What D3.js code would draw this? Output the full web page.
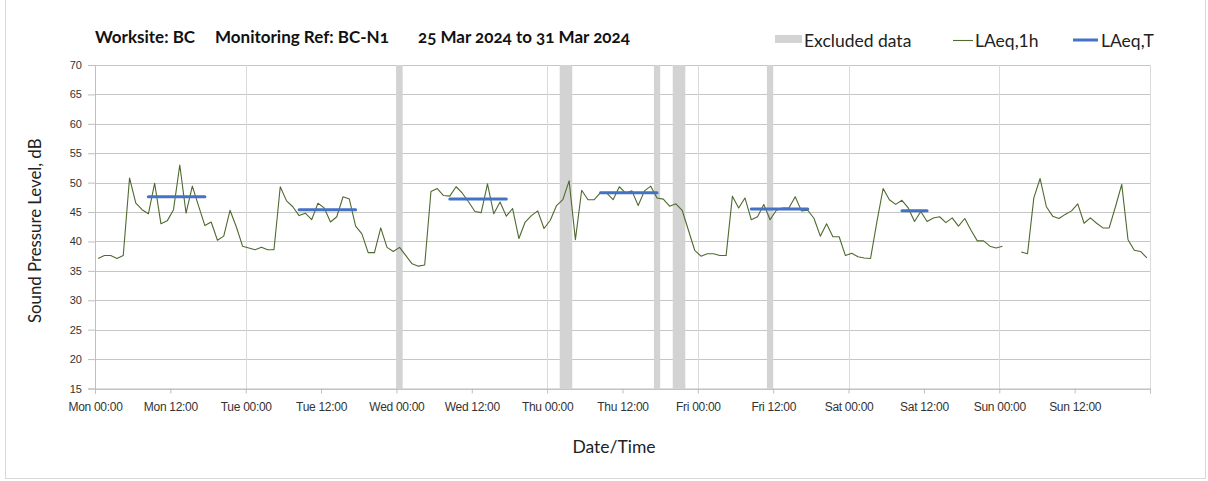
<!DOCTYPE html>
<html>
<head>
<meta charset="utf-8">
<script src="https://cdn.jsdelivr.net/npm/d3@7"></script>
<style>
  body { margin: 0; background: #fff; }
  svg { display: block; font-family: Lato, "Open Sans", sans-serif; }
  .onum { font-variant-numeric: oldstyle-nums; }
</style>
</head>
<body>
<div id="chart"></div>
<script>
// hourly LAeq,1h values, Mon 25 Mar 2024 00:00 onwards (null = no data)
const laeq1h = [
  37.1, 37.6, 37.6, 37.1, 37.6, 50.8, 46.5, 45.4, 44.7, 49.9, 43.0, 43.5, 45.4, 53.0, 44.8, 49.4, 46.0, 42.7, 43.3, 40.2, 40.9, 45.3, 42.5, 39.2,
  38.9, 38.6, 39.0, 38.6, 38.6, 49.3, 46.9, 45.9, 44.4, 44.8, 43.7, 46.5, 45.7, 43.3, 44.2, 47.6, 47.2, 42.6, 41.3, 38.1, 38.1, 42.3, 39.0, 38.3,
  39.0, 37.6, 36.2, 35.8, 36.0, 48.5, 49.0, 47.8, 47.7, 49.3, 48.2, 46.7, 45.1, 44.9, 49.8, 44.7, 46.7, 44.3, 45.6, 40.5, 43.3, 44.4, 45.2, 42.2,
  43.6, 46.1, 47.1, 50.3, 40.3, 48.7, 47.1, 47.1, 48.3, 48.2, 47.1, 49.3, 48.2, 48.6, 46.1, 48.6, 49.4, 47.4, 47.2, 46.0, 46.4, 45.3, 41.9, 38.5,
  37.5, 37.9, 37.9, 37.6, 37.6, 47.7, 45.7, 47.4, 43.7, 44.2, 46.3, 43.7, 45.3, 45.7, 45.7, 47.6, 45.2, 45.3, 43.9, 40.9, 43.0, 40.8, 40.8, 37.6,
  38.0, 37.4, 37.2, 37.1, 43.3, 49.0, 47.1, 46.3, 47.0, 45.7, 43.4, 45.1, 43.4, 44.0, 44.2, 43.2, 44.0, 42.6, 43.9, 41.9, 40.1, 40.1, 39.2, 38.9,
  39.2, null, null, 38.2, 37.9, 47.4, 50.7, 45.9, 44.3, 43.9, 44.6, 45.2, 46.4, 43.1, 44.0, 43.1, 42.3, 42.3, 45.9, 49.7, 40.3, 38.5, 38.3, 37.2
];

// LAeq,T daytime periods (hours from start) and values
const periodStart = [8, 32, 56, 80, 104, 128];
const periodEnd   = [18, 42, 66, 90, 114, 133];
const laeqT       = [47.6, 45.4, 47.2, 48.3, 45.5, 45.2];

// excluded data (hours from start)
const excludedStart = [48, 74, 89, 92, 107];
const excludedEnd   = [49, 76, 90, 94, 108];

const yTicks = [15, 20, 25, 30, 35, 40, 45, 50, 55, 60, 65, 70];

const start = new Date(Date.UTC(2024, 2, 25));
const end = new Date(Date.UTC(2024, 3, 1));
const hour = h => new Date(start.getTime() + h * 3600000);

const W = 1208, H = 481;
const margin = {top: 65, right: 58, bottom: 92.5, left: 95};
const width = W - margin.left - margin.right,
      height = H - margin.top - margin.bottom;

const svg = d3.select("#chart").append("svg")
    .attr("width", W)
    .attr("height", H);

// outer frame
svg.append("rect")
    .attr("x", 5.5).attr("y", -2)
    .attr("width", W - 8).attr("height", H - 0.5)
    .attr("fill", "none")
    .attr("stroke", "#d9d9d9");

const g = svg.append("g")
    .attr("transform", `translate(${margin.left},${margin.top})`);

const x = d3.scaleUtc().domain([start, end]).range([0, width]);
const y = d3.scaleLinear().domain([15, 70]).range([height, 0]);

// horizontal grid
g.append("g")
  .selectAll("line")
  .data(yTicks)
  .join("line")
    .attr("x1", 0).attr("x2", width)
    .attr("y1", d => Math.round(y(d)) + 0.5)
    .attr("y2", d => Math.round(y(d)) + 0.5)
    .attr("stroke", "#c6c6c6");

// vertical day grid
g.append("g")
  .selectAll("line")
  .data(d3.utcDay.range(start, end).concat([end]))
  .join("line")
    .attr("x1", d => Math.round(x(d)) + 0.5)
    .attr("x2", d => Math.round(x(d)) + 0.5)
    .attr("y1", 0).attr("y2", height)
    .attr("stroke", "#dadada");

// excluded data
g.append("g")
  .selectAll("rect")
  .data(excludedStart.map((s, i) => [s, excludedEnd[i]]))
  .join("rect")
    .attr("x", d => x(hour(d[0])))
    .attr("width", d => x(hour(d[1])) - x(hour(d[0])))
    .attr("y", 0)
    .attr("height", height)
    .attr("fill", "#d3d3d3");

// y axis
const yAxis = g.append("g")
    .call(d3.axisLeft(y).tickValues(yTicks).tickSize(7).tickPadding(6));
yAxis.select(".domain").attr("stroke", "#bfbfbf");
yAxis.selectAll(".tick line").attr("stroke", "#bfbfbf");
yAxis.selectAll("text")
    .attr("class", "onum")
    .attr("fill", "#333")
    .style("font-size", "11px");

// x axis
const xAxis = g.append("g")
    .attr("transform", `translate(0,${height})`)
    .call(d3.axisBottom(x)
        .tickValues(d3.utcHour.every(12).range(start, end).concat([end]))
        .tickSize(5).tickPadding(9)
        .tickFormat(d => d < end ? d3.utcFormat("%a %H:%M")(d) : ""));
xAxis.select(".domain").attr("stroke", "#bfbfbf");
xAxis.selectAll(".tick line").attr("stroke", "#bfbfbf");
xAxis.selectAll("text")
    .attr("fill", "#333")
    .style("font-size", "12px")
    .style("letter-spacing", "-0.3px");

// LAeq,1h line
const pts = laeq1h.map((v, i) => ({t: d3.utcMinute.offset(start, i * 60 + 30), v}));
g.append("path")
    .datum(pts)
    .attr("fill", "none")
    .attr("stroke", "#4f6a2f")
    .attr("stroke-width", 1.1)
    .attr("stroke-linejoin", "round")
    .attr("d", d3.line()
        .defined(d => d.v !== null)
        .x(d => x(d.t))
        .y(d => y(d.v)));

// LAeq,T lines
g.append("g")
  .selectAll("line")
  .data(laeqT.map((v, i) => ({s: periodStart[i], e: periodEnd[i], v})))
  .join("line")
    .attr("x1", d => x(hour(d.s + 0.5)))
    .attr("x2", d => x(hour(d.e - 0.5)))
    .attr("y1", d => y(d.v))
    .attr("y2", d => y(d.v))
    .attr("stroke", "#4472c4")
    .attr("stroke-width", 3)
    .attr("stroke-linecap", "round");

// axis titles
svg.append("text")
    .attr("transform", `translate(41,${margin.top + height / 2 + 4}) rotate(-90)`)
    .attr("text-anchor", "middle")
    .attr("fill", "#222")
    .style("font-size", "16.8px")
    .text("Sound Pressure Level, dB");

svg.append("text")
    .attr("x", 614).attr("y", 453)
    .attr("text-anchor", "middle")
    .attr("fill", "#222")
    .style("font-size", "17.5px")
    .text("Date/Time");

// title
const title = svg.append("g")
    .attr("class", "onum")
    .style("font-size", "17px")
    .style("font-weight", "bold")
    .attr("fill", "#111");
title.append("text").attr("x", 95).attr("y", 43).text("Worksite: BC");
title.append("text").attr("x", 215).attr("y", 43).text("Monitoring Ref: BC-N1");
title.append("text").attr("x", 418).attr("y", 43).text("25 Mar 2024 to 31 Mar 2024");

// legend
const legend = svg.append("g")
    .style("font-size", "17.5px")
    .attr("fill", "#222");
legend.append("rect")
    .attr("x", 775).attr("y", 35).attr("width", 27).attr("height", 8)
    .attr("fill", "#d3d3d3");
legend.append("text").attr("x", 804).attr("y", 47).text("Excluded data");
legend.append("line")
    .attr("x1", 953).attr("x2", 973).attr("y1", 40.5).attr("y2", 40.5)
    .attr("stroke", "#4f6a2f").attr("stroke-width", 1.1);
legend.append("text").attr("x", 975).attr("y", 47).text("LAeq,1h");
legend.append("line")
    .attr("x1", 1073).attr("x2", 1098).attr("y1", 40).attr("y2", 40)
    .attr("stroke", "#4472c4").attr("stroke-width", 3);
legend.append("text").attr("x", 1101).attr("y", 47).text("LAeq,T");
</script>
</body>
</html>
